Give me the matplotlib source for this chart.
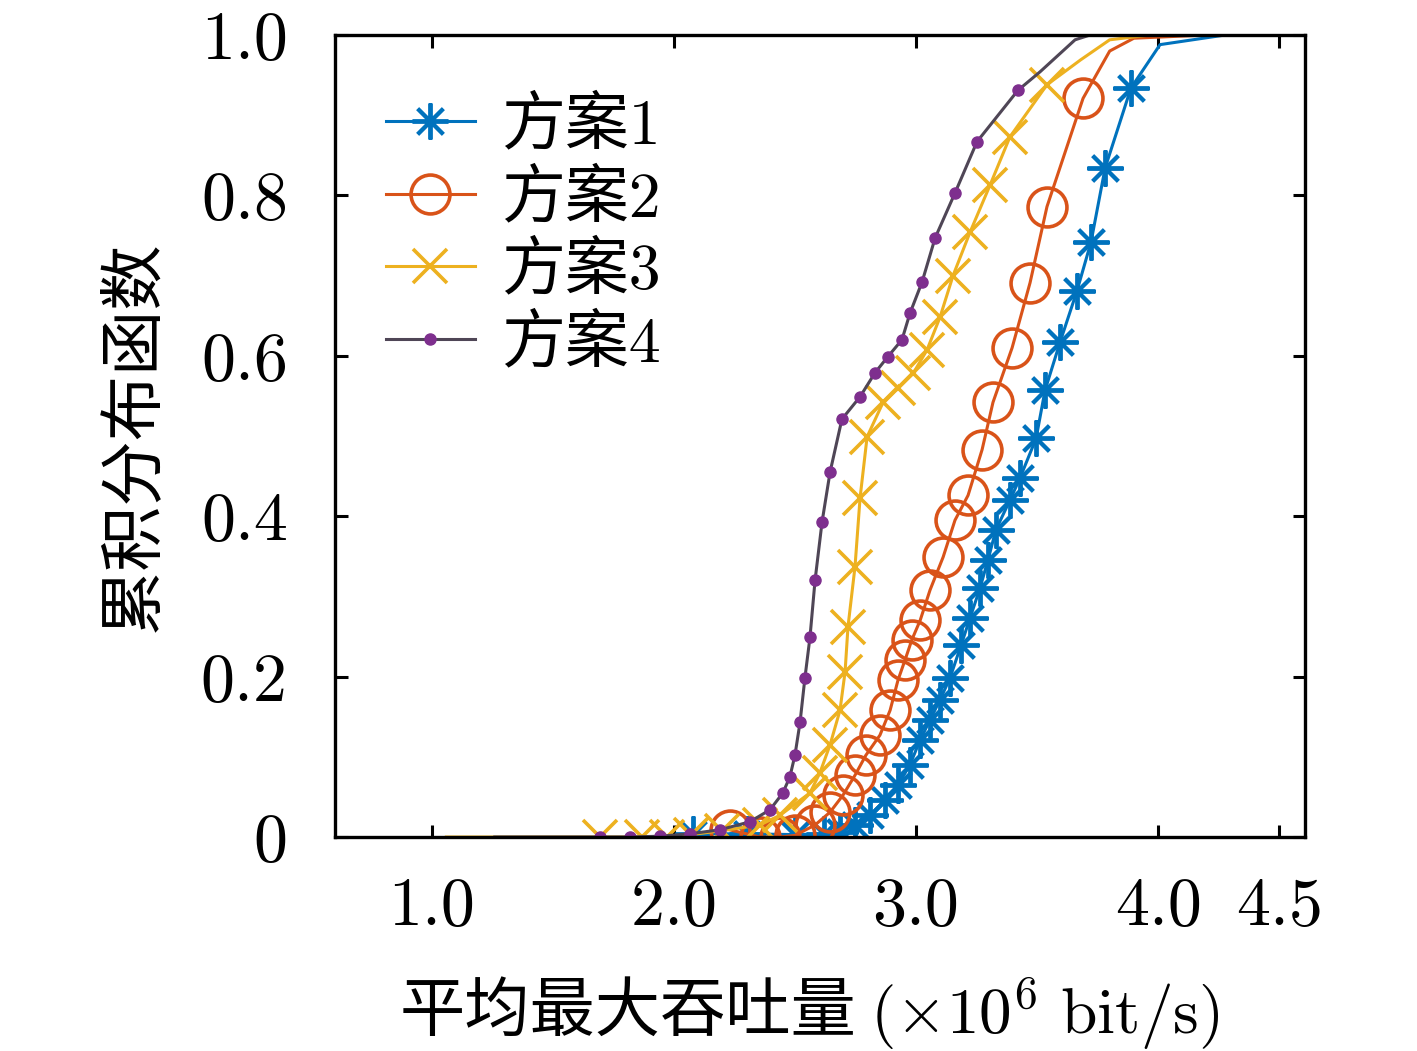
import matplotlib
matplotlib.use("Agg")
import matplotlib.pyplot as plt

plt.rcParams['font.family'] = ['cmr10', 'Noto Sans CJK SC', 'DejaVu Sans']
plt.rcParams['mathtext.fontset'] = 'cm'
plt.rcParams['axes.formatter.use_mathtext'] = True

# 方案1
x1 = [2.08, 2.30, 2.50, 2.62, 2.686, 2.748, 2.81, 2.872, 2.926, 2.975, 3.017, 3.058,
      3.099, 3.14, 3.186, 3.223, 3.264, 3.297, 3.33, 3.388, 3.43, 3.496, 3.533, 3.595,
      3.665, 3.723, 3.781, 3.888, 4.008, 4.277]
y1 = [0.004, 0.004, 0.003, 0.004, 0.006, 0.015, 0.027, 0.046, 0.065, 0.09, 0.121, 0.146,
      0.171, 0.198, 0.239, 0.273, 0.310, 0.345, 0.383, 0.420, 0.448, 0.497, 0.557, 0.617,
      0.681, 0.742, 0.834, 0.934, 0.988, 1.0]
# 方案2
x2 = [2.23, 2.355, 2.44, 2.5, 2.583, 2.645, 2.698, 2.748, 2.793, 2.851, 2.893, 2.926,
      2.955, 2.983, 3.017, 3.058, 3.112, 3.161, 3.215, 3.273, 3.318, 3.397, 3.471, 3.541,
      3.69, 3.80, 3.90, 4.2]
y2 = [0.009, 0.0, 0.0, 0.002, 0.015, 0.031, 0.052, 0.077, 0.102, 0.127, 0.158, 0.196,
      0.221, 0.246, 0.27, 0.308, 0.349, 0.395, 0.426, 0.483, 0.542, 0.61, 0.691, 0.786,
      0.921, 0.98, 0.996, 1.0]
# 方案3
x3 = [1.06, 1.694, 1.87, 1.97, 2.07, 2.2, 2.355, 2.438, 2.562, 2.603, 2.645, 2.686,
      2.707, 2.719, 2.748, 2.769, 2.798, 2.864, 2.926, 2.988, 3.045, 3.099, 3.153, 3.223,
      3.306, 3.388, 3.541, 3.68, 3.80, 3.967]
y3 = [0, 0, 0, 0, 0.003, 0.008, 0.015, 0.027, 0.055, 0.08, 0.115, 0.158,
      0.206, 0.262, 0.337, 0.423, 0.499, 0.542, 0.56, 0.578, 0.607, 0.648, 0.70, 0.754,
      0.813, 0.873, 0.938, 0.969, 0.994, 1.0]
# 方案4
x4 = [1.26, 1.694, 1.818, 1.942, 2.066, 2.19, 2.314, 2.397, 2.45, 2.479, 2.5, 2.521,
      2.541, 2.562, 2.583, 2.612, 2.645, 2.694, 2.769, 2.831, 2.884, 2.942, 2.975, 3.025,
      3.079, 3.161, 3.252, 3.421, 3.512, 3.657, 3.719]
y4 = [0, 0, 0, 0.001, 0.004, 0.009, 0.019, 0.034, 0.055, 0.075, 0.102, 0.143,
      0.198, 0.249, 0.32, 0.393, 0.455, 0.521, 0.549, 0.579, 0.599, 0.62, 0.653, 0.692,
      0.747, 0.803, 0.867, 0.931, 0.954, 0.994, 1.0]

labels = ['方案1', '方案2', '方案3', '方案4']
xticks = [1.0, 2.0, 3.0, 4.0, 4.5]
yticks = [0, 0.2, 0.4, 0.6, 0.8, 1.0]

fig = plt.figure(figsize=(14.17, 10.51), dpi=100)
ax = fig.add_axes([0.2364, 0.2036, 0.6846, 0.7631])

ax.plot(x1, y1, color='#0072BD', lw=2.2, marker=(8, 2, 0), ms=26, mew=2.8,
        markevery=list(range(len(x1) - 2)), label=labels[0])
ax.plot(x2, y2, color='#D95319', lw=2.2, marker='o', ms=28, mew=2.6, mfc='none',
        markevery=list(range(len(x2) - 3)), label=labels[1])
ax.plot(x3, y3, color='#EDB120', lw=2.2, marker='x', ms=24, mew=2.6,
        markevery=list(range(1, len(x3) - 3)), label=labels[2])
ax.plot(x4, y4, color='#4f4656', lw=2.2, marker='o', ms=8, mfc='#7E2F8E', mec='#7E2F8E',
        markevery=list(range(1, len(x4) - 3)), label=labels[3])

ax.set_xlim(0.6, 4.607)
ax.set_ylim(0, 1.0)
ax.set_xticks(xticks)
ax.set_xticklabels(['1.0', '2.0', '3.0', '4.0', '4.5'])
ax.set_yticks(yticks)
ax.set_yticklabels(['0', '0.2', '0.4', '0.6', '0.8', '1.0'])
ax.tick_params(direction='in', top=True, right=True, length=9, width=2.2,
               labelsize=49)
ax.tick_params(axis='x', pad=29)
ax.tick_params(axis='y', pad=34)
for s in ax.spines.values():
    s.set_linewidth(2.4)

ax.set_ylabel('累积分布函数', fontsize=47, labelpad=26)
# x label: Chinese part and math part as two texts (mathtext has no CJK glyphs)
fig.text(400 / 1417, 0.035, '平均最大吞吐量', fontsize=47, ha='left', va='center')
fig.text(870 / 1417, 0.035, '$(\\times 10^6\\ \\mathrm{bit/s})$', fontsize=47,
         ha='left', va='center')

ax.legend(loc='upper left', bbox_to_anchor=(0.026, 0.955), frameon=False, fontsize=46,
          handlelength=1.4, handletextpad=0.4, labelspacing=0.2, borderaxespad=0)

fig.savefig('out.png', dpi=100)
